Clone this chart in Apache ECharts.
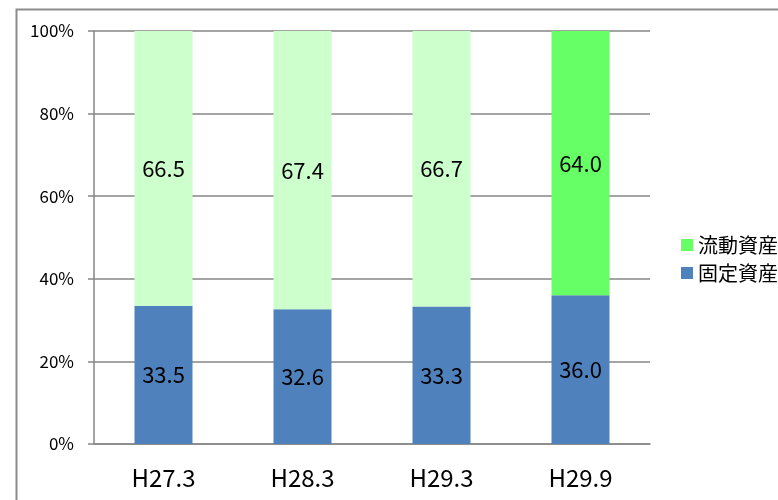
<!DOCTYPE html>
<html><head><meta charset="utf-8">
<script src="https://cdn.jsdelivr.net/npm/echarts@6/dist/echarts.min.js"></script>
<style>html,body{margin:0;padding:0;background:#fff}#c{width:778px;height:500px}</style>
</head><body><div id="c"></div>
<script>
const categories = ['H27.3', 'H28.3', 'H29.3', 'H29.9'];
const fixedAssets = [33.5, 32.6, 33.3, 36.0];
const currentAssets = [66.5, 67.4, 66.7, 64.0];
const currentColors = ['#CCFFCC', '#CCFFCC', '#CCFFCC', '#66FF66'];
const yTicks = ['0%', '20%', '40%', '60%', '80%', '100%'];

const font = '"Noto Sans CJK JP", "Noto Sans", sans-serif';
const chart = echarts.init(document.getElementById('c'), null, {renderer: 'canvas'});
chart.setOption({
  animation: false,
  textStyle: {fontFamily: font},
  graphic: [{
    type: 'rect', silent: true,
    shape: {x: 16.5, y: 9.5, width: 900, height: 700},
    style: {fill: 'none', stroke: '#8c8c8c', lineWidth: 2}
  }],
  legend: {
    orient: 'vertical', left: 681, top: 235, padding: 0,
    itemWidth: 12, itemHeight: 12, itemGap: 8,
    icon: 'rect',
    textStyle: {fontSize: 20, color: '#000', fontFamily: font},
    data: ['流動資産', '固定資産']
  },
  grid: {left: 94, top: 31, width: 556, height: 413, containLabel: false},
  xAxis: {
    type: 'category', data: categories,
    axisLine: {lineStyle: {color: '#868686', width: 1.5}},
    axisTick: {length: 7, lineStyle: {color: '#868686', width: 1.5}},
    axisLabel: {fontSize: 24, color: '#000', margin: 22, fontFamily: font},
    splitLine: {show: false}
  },
  yAxis: {
    type: 'value', min: 0, max: 100, interval: 20,
    axisLine: {show: true, lineStyle: {color: '#868686', width: 1.5}},
    axisTick: {show: true, length: 6, lineStyle: {color: '#868686', width: 1.5}},
    axisLabel: {fontSize: 17, color: '#000', margin: 20, fontFamily: font,
      formatter: (v) => yTicks[Math.round(v / 20)]},
    splitLine: {lineStyle: {color: '#868686', width: 1.5}}
  },
  series: [
    {
      name: '固定資産', type: 'bar', stack: 's', barWidth: 58,
      itemStyle: {color: '#4F81BD'},
      label: {show: true, position: 'inside', fontSize: 22, color: '#000', fontFamily: font,
        formatter: (p) => p.value.toFixed(1)},
      data: fixedAssets
    },
    {
      name: '流動資産', type: 'bar', stack: 's', barWidth: 58,
      itemStyle: {color: '#66FF66'},
      label: {show: true, position: 'inside', fontSize: 22, color: '#000', fontFamily: font,
        formatter: (p) => p.value.toFixed(1)},
      data: currentAssets.map((v, i) => ({value: v, itemStyle: {color: currentColors[i]}}))
    }
  ]
});
</script></body></html>
